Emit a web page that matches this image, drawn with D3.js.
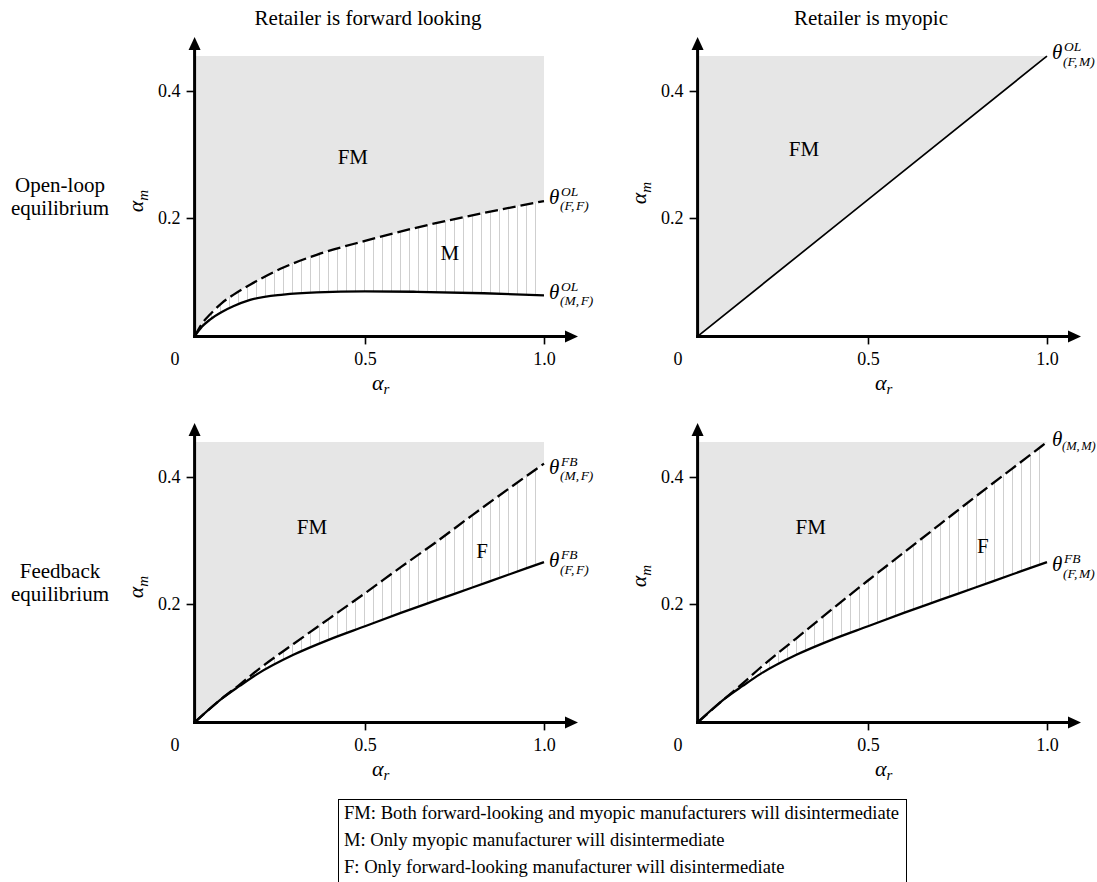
<!DOCTYPE html>
<html>
<head>
<meta charset="utf-8">
<script src="https://cdn.jsdelivr.net/npm/d3@7"></script>
<style>
  body { margin: 0; background: #fff; }
  svg, text { font-family: "Liberation Serif", "Times New Roman", serif; fill: #000; }
</style>
</head>
<body>
<div id="graphic"></div>
<script>
// values
const colTitles = ["Retailer is forward looking", "Retailer is myopic"];
const rowTitles = [["Open-loop", "equilibrium"], ["Feedback", "equilibrium"]];
const xTickValues = [0.5, 1.0];
const yTickValues = [0.2, 0.4];
const legendLines = [
    "FM: Both forward-looking and myopic manufacturers will disintermediate",
    "M: Only myopic manufacturer will disintermediate",
    "F: Only forward-looking manufacturer will disintermediate"
];

// axes start a little off zero, gray region runs up to yTop
const xOrigin = 0.024, yOrigin = 0.0135, yTop = 0.455, xEnd = 1.0;

// open-loop, forward looking retailer
const xsOL = [0.024, 0.045, 0.067, 0.1, 0.132, 0.179, 0.272, 0.365, 0.5, 0.645, 0.832, 1.0];
const thetaOL_FF = [0.0135, 0.034, 0.048, 0.066, 0.079, 0.095, 0.122, 0.142, 0.164, 0.185, 0.208, 0.2266];
const thetaOL_MF = [0.0135, 0.029, 0.040, 0.052, 0.061, 0.071, 0.0795, 0.083, 0.0845, 0.0838, 0.0815, 0.078];

// open-loop, myopic retailer
const xsTR = [0.024, 0.5, 1.0];
const thetaOL_FM = [0.0135, 0.229, 0.455];

// feedback
const xsFB = [0.024, 0.1, 0.15, 0.2, 0.3, 0.4, 0.5, 0.6, 0.7, 0.8, 0.9, 1.0];
const thetaFB_FF = [0.0135, 0.051, 0.071, 0.09, 0.12, 0.144, 0.165, 0.186, 0.206, 0.226, 0.246, 0.266];
const thetaFB_MF = [0.0135, 0.051, 0.073, 0.096, 0.137, 0.177, 0.217, 0.258, 0.298, 0.34, 0.381, 0.421];
const thetaMM = [0.0135, 0.051, 0.075, 0.1, 0.146, 0.192, 0.237, 0.281, 0.325, 0.369, 0.412, 0.455];
const thetaFB_FM = [0.0135, 0.051, 0.071, 0.09, 0.12, 0.144, 0.165, 0.186, 0.206, 0.226, 0.246, 0.266];

const panels = [
    { col: 0, row: 0, xs: xsOL, upper: thetaOL_FF, lower: thetaOL_MF, dashed: true,
      upperLab: { sup: "OL", sub: ["(F,", "F)"], dy: 2.5 }, lowerLab: { sup: "OL", sub: ["(M,", "F)"], dy: 3.5 },
      regions: [{ t: "FM", x: 0.466, y: 0.296 }, { t: "M", x: 0.737, y: 0.145 }], am: 201 },
    { col: 1, row: 0, xs: xsTR, upper: thetaOL_FM, lower: null, dashed: false,
      upperLab: { sup: "OL", sub: ["(F,", "M)"], dy: 3 },
      regions: [{ t: "FM", x: 0.321, y: 0.309 }], am: 193 },
    { col: 0, row: 1, xs: xsFB, upper: thetaFB_MF, lower: thetaFB_FF, dashed: true,
      upperLab: { sup: "FB", sub: ["(M,", "F)"], dy: 10 }, lowerLab: { sup: "FB", sub: ["(F,", "F)"], dy: 5 },
      regions: [{ t: "FM", x: 0.352, y: 0.321 }, { t: "F", x: 0.827, y: 0.283 }], am: 587 },
    { col: 1, row: 1, xs: xsFB, upper: thetaMM, lower: thetaFB_FM, dashed: true,
      upperLab: { sup: "", sub: ["(M,", "M)"], dy: 3.5 }, lowerLab: { sup: "FB", sub: ["(F,", "M)"], dy: 9 },
      regions: [{ t: "FM", x: 0.34, y: 0.322 }, { t: "F", x: 0.821, y: 0.292 }], am: 576 }
];

const width = 1097, height = 882;
const colX0 = [186, 689], rowY0 = [345, 731];
const xLen = 358, yLen = 635;
const serif = "'Liberation Serif', 'Times New Roman', serif";

const svg = d3.select("#graphic")
    .append("svg")
    .attr("width", width)
    .attr("height", height)
    .style("font-family", serif);

svg.append("defs")
    .append("pattern")
    .attr("id", "hatch")
    .attr("patternUnits", "userSpaceOnUse")
    .attr("width", 9)
    .attr("height", 10)
    .append("line")
    .attr("x1", 4.5).attr("x2", 4.5)
    .attr("y1", 0).attr("y2", 10)
    .attr("stroke", "#cfcfcf")
    .attr("stroke-width", 1);

// column titles and row titles
colTitles.forEach((t, i) => {
    svg.append("text")
        .attr("x", colX0[i] + 182)
        .attr("y", 25)
        .attr("text-anchor", "middle")
        .attr("font-size", 21)
        .text(t);
});
rowTitles.forEach((lines, i) => {
    lines.forEach((t, j) => {
        svg.append("text")
            .attr("x", 60)
            .attr("y", 192 + i * 386 + j * 23)
            .attr("text-anchor", "middle")
            .attr("font-size", 21)
            .text(t);
    });
});

function thetaLabel(g, x, y, lab) {
    g.append("text")
        .attr("x", x).attr("y", y)
        .attr("font-size", 21)
        .attr("font-style", "italic")
        .text("\u03b8");
    if (lab.sup) {
        g.append("text")
            .attr("x", x + 12).attr("y", y - 8)
            .attr("font-size", 13.5)
            .attr("font-style", "italic")
            .text(lab.sup);
    }
    g.append("text")
        .attr("x", x + (lab.sup ? 11 : 10)).attr("y", y + (lab.sup ? 6.5 : 4))
        .attr("font-size", lab.sup ? 13.5 : 12.5)
        .attr("font-style", "italic")
        .call(t => {
            t.append("tspan").text(lab.sub[0]);
            t.append("tspan").attr("dx", 1.5).text(lab.sub[1]);
        });
}

panels.forEach(p => {
    const x0 = colX0[p.col], y0 = rowY0[p.row];
    const x = d3.scaleLinear().domain([0, 1]).range([x0, x0 + xLen]);
    const y = d3.scaleLinear().domain([0, 1]).range([y0, y0 - yLen]);
    const g = svg.append("g");

    const rows = p.xs.map((v, i) => ({ x: v, u: p.upper[i], l: p.lower ? p.lower[i] : null }));

    // FM region (gray) above the upper curve
    g.append("path")
        .datum(rows)
        .attr("fill", "#e6e6e6")
        .attr("d", d3.area()
            .x(d => x(d.x))
            .y0(d => y(d.u))
            .y1(y(yTop))
            .curve(d3.curveMonotoneX));

    // hatched region between the two curves
    if (p.lower) {
        g.append("path")
            .datum(rows)
            .attr("fill", "url(#hatch)")
            .attr("d", d3.area()
                .x(d => x(d.x))
                .y0(d => y(d.l))
                .y1(d => y(d.u))
                .curve(d3.curveMonotoneX));
    }

    const line = key => d3.line()
        .x(d => x(d.x))
        .y(d => y(d[key]))
        .curve(d3.curveMonotoneX);

    if (p.lower) {
        g.append("path")
            .datum(rows)
            .attr("fill", "none")
            .attr("stroke", "#000")
            .attr("stroke-width", 2.3)
            .attr("d", line("l"));
    }
    g.append("path")
        .datum(rows)
        .attr("fill", "none")
        .attr("stroke", "#000")
        .attr("stroke-width", p.dashed ? 2.3 : 1.7)
        .attr("stroke-dasharray", p.dashed ? "13,5" : null)
        .attr("d", line("u"));

    // ticks
    const ax = y(yOrigin), ay = x(xOrigin);
    const xAxis = g.append("g")
        .attr("transform", `translate(0,${ax})`)
        .call(d3.axisBottom(x).tickValues(xTickValues).tickFormat(d3.format(".1f")).tickSize(8).tickPadding(8));
    const yAxis = g.append("g")
        .attr("transform", `translate(${ay},0)`)
        .call(d3.axisLeft(y).tickValues(yTickValues).tickFormat(d3.format(".1f")).tickSize(8).tickPadding(6));
    [xAxis, yAxis].forEach(a => {
        a.attr("font-family", null).attr("font-size", null);
        a.select(".domain").remove();
        a.selectAll("line").attr("stroke-width", 1.6);
        a.selectAll("text")
            .style("font-size", "18px")
            .style("font-family", serif);
    });
    g.append("text")
        .attr("x", x(0) - 11)
        .attr("y", ax + 29)
        .attr("text-anchor", "middle")
        .attr("font-size", 18)
        .text("0");

    // axis lines with arrowheads
    const tipX = x(1.095), tipY = y(0.485);
    g.append("line")
        .attr("x1", ay - 1.5).attr("x2", tipX - 10)
        .attr("y1", ax).attr("y2", ax)
        .attr("stroke", "#000").attr("stroke-width", 3);
    g.append("line")
        .attr("x1", ay).attr("x2", ay)
        .attr("y1", ax + 1.5).attr("y2", tipY + 10)
        .attr("stroke", "#000").attr("stroke-width", 3);
    g.append("path")
        .attr("d", `M${tipX},${ax}L${tipX - 13},${ax - 6}L${tipX - 13},${ax + 6}Z`);
    g.append("path")
        .attr("d", `M${ay},${tipY}L${ay - 6},${tipY + 13}L${ay + 6},${tipY + 13}Z`);

    // axis titles
    g.append("text")
        .attr("transform", `translate(${x0 - 43},${p.am}) rotate(-90)`)
        .attr("text-anchor", "middle")
        .attr("font-size", 22)
        .attr("font-style", "italic")
        .call(t => {
            t.append("tspan").text("\u03b1");
            t.append("tspan").attr("dy", 5).attr("font-size", 15).text("m");
        });
    g.append("text")
        .attr("x", x0 + 186)
        .attr("y", ax + 54)
        .attr("font-size", 22)
        .attr("font-style", "italic")
        .call(t => {
            t.append("tspan").text("\u03b1");
            t.append("tspan").attr("dy", 4).attr("font-size", 15).text("r");
        });

    // curve labels
    const n = p.xs.length - 1;
    thetaLabel(g, x(xEnd) + 5, y(p.upper[n]) + p.upperLab.dy, p.upperLab);
    if (p.lower) thetaLabel(g, x(xEnd) + 5, y(p.lower[n]) + p.lowerLab.dy, p.lowerLab);

    // region labels
    p.regions.forEach(r => {
        g.append("text")
            .attr("x", x(r.x))
            .attr("y", y(r.y) + 7)
            .attr("text-anchor", "middle")
            .attr("font-size", 21)
            .text(r.t);
    });
});

// legend box
const legend = svg.append("g");
legend.append("rect")
    .attr("x", 338.5).attr("y", 799.5)
    .attr("width", 568).attr("height", 110)
    .attr("fill", "none")
    .attr("stroke", "#000")
    .attr("stroke-width", 1);
legendLines.forEach((t, i) => {
    legend.append("text")
        .attr("x", 344)
        .attr("y", 819 + i * 27)
        .attr("font-size", 18.6)
        .text(t);
});
</script>
</body>
</html>
